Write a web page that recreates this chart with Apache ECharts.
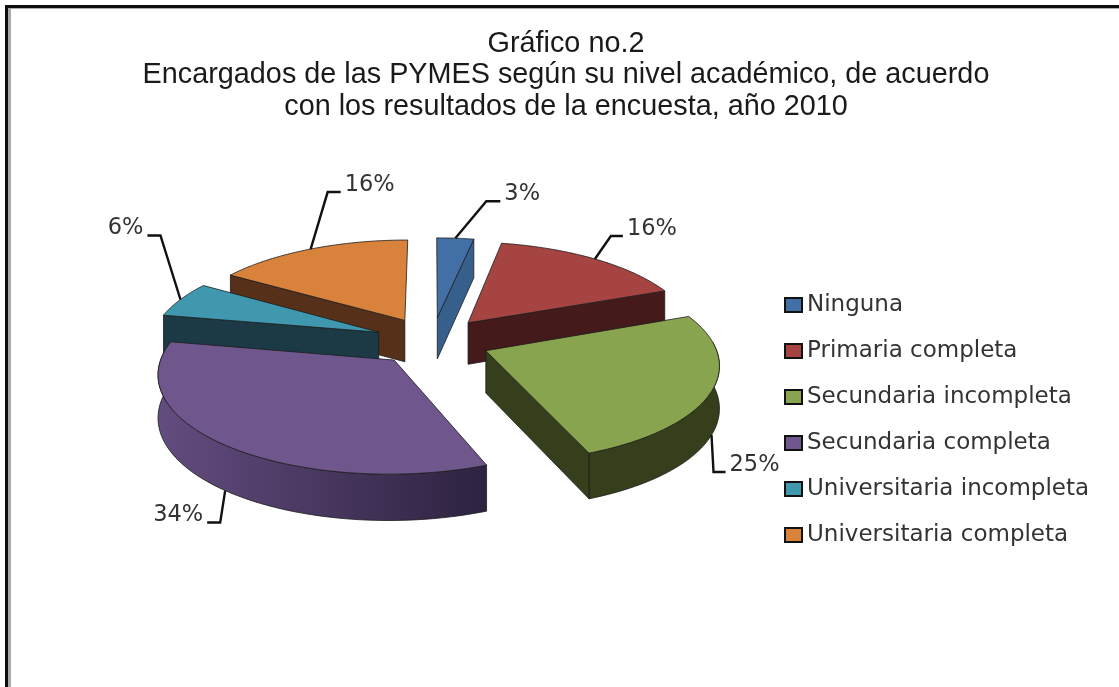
<!DOCTYPE html>
<html lang="es">
<head>
<meta charset="UTF-8">
<title>Gráfico no.2</title>
<script src="https://cdn.jsdelivr.net/npm/echarts@6/dist/echarts.min.js"></script>
<style>
html,body{margin:0;padding:0;background:#fff;}
#chart{width:1119px;height:687px;}
</style>
</head>
<body>
<div id="chart"></div>
<script>
var categories = ['Ninguna','Primaria completa','Secundaria incompleta','Secundaria completa','Universitaria incompleta','Universitaria completa'];
var values = [3,16,25,34,6,16];
var titleLines = ['Gráfico no.2','Encargados de las PYMES según su nivel académico, de acuerdo','con los resultados de la encuesta, año 2010'];

var topColors = ['#4270a6','#a64442','#89a44e','#6f578d','#3f98ad','#d9823b'];
var wallColors = ['#375f8c','#451a1a','#353f1c','#4a3a60','#1b3a46','#57301a'];
// painter's order, back slices first
var drawRank = [0,2,4,5,3,1];
// leader line: elbow and end, relative to the point it leaves the rim
var elbowX = [31,16,2,-5,-20,17];
var elbowY = [-37,-23,37,32,-64,-57];
var endX = [14,12,12,-13,-13,13];

// 3d pie projection, fitted by eye
var cx = 432, cy = 341, rx = 228, ry = 95, persp = 0.123, explode = 0.254, depth = 42;

function project(X, Y) {
	var f = 1 / (1 + persp * Y);
	return {x: cx + rx * X * f, y: cy - ry * Y * f, f: f};
}
function rimPoint(deg, ox, oy) {
	var a = deg * Math.PI / 180;
	return project(ox + Math.sin(a), oy + Math.cos(a));
}
function down(p) {
	return [p.x, p.y + depth * (1 + (p.f - 1) * 0.6)];
}
function flat(p) {
	return [p.x, p.y];
}

var total = values.reduce(function (a, c) { return a + c; });
var startAngles = values.map(function (v, i) {
	return values.slice(0, i).reduce(function (a, c) { return a + c; }, 0) / total * 360;
});

function renderSlice(i) {
	return function (params, api) {
		var start = startAngles[i];
		var sweep = api.value(0) / total * 360;
		var end = start + sweep;
		var mid = (start + end) / 2 * Math.PI / 180;
		var ox = Math.sin(mid) * explode, oy = Math.cos(mid) * explode;
		var apex = project(ox, oy);
		var rim = [], frontRim = [];
		for (var k = 0; k <= 60; k++) {
			var deg = start + sweep * k / 60;
			var p = rimPoint(deg, ox, oy);
			rim.push(p);
			// the outer wall only shows on the side facing the viewer
			if (Math.cos(deg * Math.PI / 180) < 0.1) { frontRim.push(p); }
		}
		var a = rim[0], b = rim[rim.length - 1];
		var edge = '#1c1c1c';
		var wallStyle = {fill: wallColors[i], stroke: edge, lineWidth: 0.8};
		var rimFill = wallColors[i];
		if (i === 3) {
			rimFill = new echarts.graphic.LinearGradient(0, 0, 1, 0, [
				{offset: 0, color: '#634c7f'},
				{offset: 1, color: '#2d2240'}
			]);
		}
		var children = [];
		if (frontRim.length > 1) {
			children.push({type: 'polygon', shape: {points: frontRim.map(flat).concat(frontRim.slice().reverse().map(down))}, style: {fill: rimFill, stroke: edge, lineWidth: 0.8}});
		}
		// flat cut walls, only the ones turned towards the viewer
		if (Math.sin(start * Math.PI / 180) < -1e-6) {
			children.push({type: 'polygon', shape: {points: [flat(apex), flat(a), down(a), down(apex)]}, style: wallStyle});
		}
		if (Math.sin(end * Math.PI / 180) > 1e-6) {
			children.push({type: 'polygon', shape: {points: [flat(apex), flat(b), down(b), down(apex)]}, style: wallStyle});
		}
		children.push({type: 'polygon', shape: {points: [flat(apex)].concat(rim.map(flat))}, style: {fill: topColors[i], stroke: edge, lineWidth: 0.8}});
		// leader and percent label
		var lp = rimPoint((start + end) / 2, ox, oy);
		var sx = lp.x, sy = lp.y;
		if (Math.cos(mid) < 0) { sy = down(lp)[1]; }
		var ex = sx + elbowX[i], ey = sy + elbowY[i];
		var tx = ex + endX[i];
		children.push({type: 'polyline', shape: {points: [[sx, sy], [ex, ey], [tx, ey]]}, style: {fill: null, stroke: '#111', lineWidth: 2.4}});
		children.push({
			type: 'text',
			style: {
				text: Math.round(api.value(0) / total * 100) + '%',
				x: tx + (endX[i] > 0 ? 4 : -4),
				y: ey - 7,
				align: endX[i] > 0 ? 'left' : 'right',
				verticalAlign: 'middle',
				font: '22.5px "DejaVu Sans"',
				fill: '#333'
			}
		});
		return {type: 'group', children: children};
	};
}

var chart = echarts.init(document.getElementById('chart'), null, {renderer: 'canvas'});
chart.setOption({
	animation: false,
	backgroundColor: '#fff',
	title: {
		text: titleLines.join('\n'),
		left: 561,
		top: 23,
		textAlign: 'center',
		textStyle: {fontFamily: 'Liberation Sans', fontWeight: 'normal', fontSize: 28.8, lineHeight: 31.5, color: '#1a1a1a'}
	},
	legend: {
		orient: 'vertical',
		left: 779,
		top: 288,
		icon: 'rect',
		itemWidth: 17,
		itemHeight: 14,
		itemGap: 22,
		data: categories,
		itemStyle: {borderColor: '#111', borderWidth: 2},
		textStyle: {fontFamily: 'DejaVu Sans', fontSize: 23, lineHeight: 24, color: '#333'}
	},
	graphic: [
		{type: 'rect', shape: {x: 5, y: 5, width: 1114, height: 3}, style: {fill: '#0d0d0d'}},
		{type: 'rect', shape: {x: 8, y: 8, width: 1111, height: 1}, style: {fill: '#aaa'}},
		{type: 'rect', shape: {x: 5, y: 5, width: 3, height: 682}, style: {fill: '#0d0d0d'}},
		{type: 'rect', shape: {x: 8, y: 8, width: 3, height: 679}, style: {fill: '#aaa'}}
	],
	series: categories.map(function (name, i) {
		return {
			type: 'custom',
			name: name,
			coordinateSystem: 'none',
			z: 2 + drawRank[i],
			silent: true,
			itemStyle: {color: topColors[i]},
			renderItem: renderSlice(i),
			data: [[values[i]]]
		};
	})
});
</script>
</body>
</html>
